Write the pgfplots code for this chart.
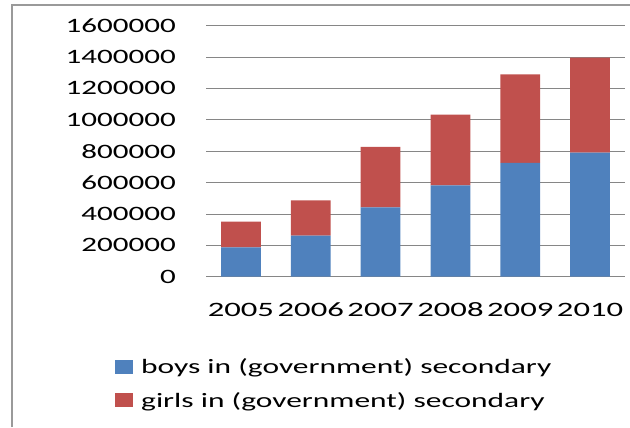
\documentclass[border=0pt]{standalone}
\usepackage{graphicx}
\usepackage{pgfplots}
\pgfplotsset{compat=1.18}
\usepackage{fontspec}
\setmainfont{Carlito}
\definecolor{boys}{HTML}{4F81BD}
\definecolor{girls}{HTML}{C0504D}
\definecolor{gridc}{HTML}{868686}
\definecolor{framec}{HTML}{9A9A9A}
\newcommand\sy[1]{\scalebox{1.52}[1]{#1}}
\newcommand\sx[1]{\scalebox{1.6}[1]{#1}}
\newcommand\slg[1]{\scalebox{1.54}[1]{#1}}
\begin{document}
\begin{tikzpicture}[x=1bp,y=1bp]
\useasboundingbox (0,0) rectangle (630,-427);
\draw[framec, line width=1.5bp] (12,-427) -- (12,-5) -- (630,-5);
\begin{axis}[
  at={(206bp,-276.7bp)}, anchor=south west,
  scale only axis, width=419bp, height=251.2bp,
  ymin=0, ymax=1600000, xmin=-0.5, xmax=5.5,
  scaled y ticks=false,
  ybar stacked, bar width=0.57,
  axis line style={draw=none},
  ymajorgrids, grid style={gridc, line width=0.8bp},
  major tick length=0,
  ytick={0,200000,400000,600000,800000,1000000,1200000,1400000,1600000},
  yticklabels={\sy{0},\sy{200000},\sy{400000},\sy{600000},\sy{800000},\sy{1000000},\sy{1200000},\sy{1400000},\sy{1600000}},
  yticklabel style={anchor=east, inner sep=0pt, xshift=-30bp, font=\fontsize{20.5}{24}\selectfont},
  xtick={0,1,2,3,4,5},
  xticklabels={\sx{2005},\sx{2006},\sx{2007},\sx{2008},\sx{2009},\sx{2010}},
  xticklabel style={anchor=north, inner sep=0pt, yshift=-26bp, font=\fontsize{20.5}{24}\selectfont},
  legend style={at={(-0.2243,-0.318)}, anchor=north west, draw=none, fill=none,
    font=\fontsize{20.5}{24}\selectfont, nodes={inner sep=0pt}, column sep=8bp, row sep=17bp},
  legend cell align=left,
  legend image code/.code={\fill[#1] (0bp,-7bp) rectangle (18bp,7bp);},
]
\addplot[fill=boys, draw=none] coordinates {(0,187000) (1,261000) (2,442000) (3,582000) (4,725000) (5,791000)};
\addplot[fill=girls, draw=none] coordinates {(0,164000) (1,226000) (2,385000) (3,451000) (4,563000) (5,605000)};
\legend{\slg{boys in (government) secondary},\slg{girls in (government) secondary}}
\end{axis}
\end{tikzpicture}
\end{document}
